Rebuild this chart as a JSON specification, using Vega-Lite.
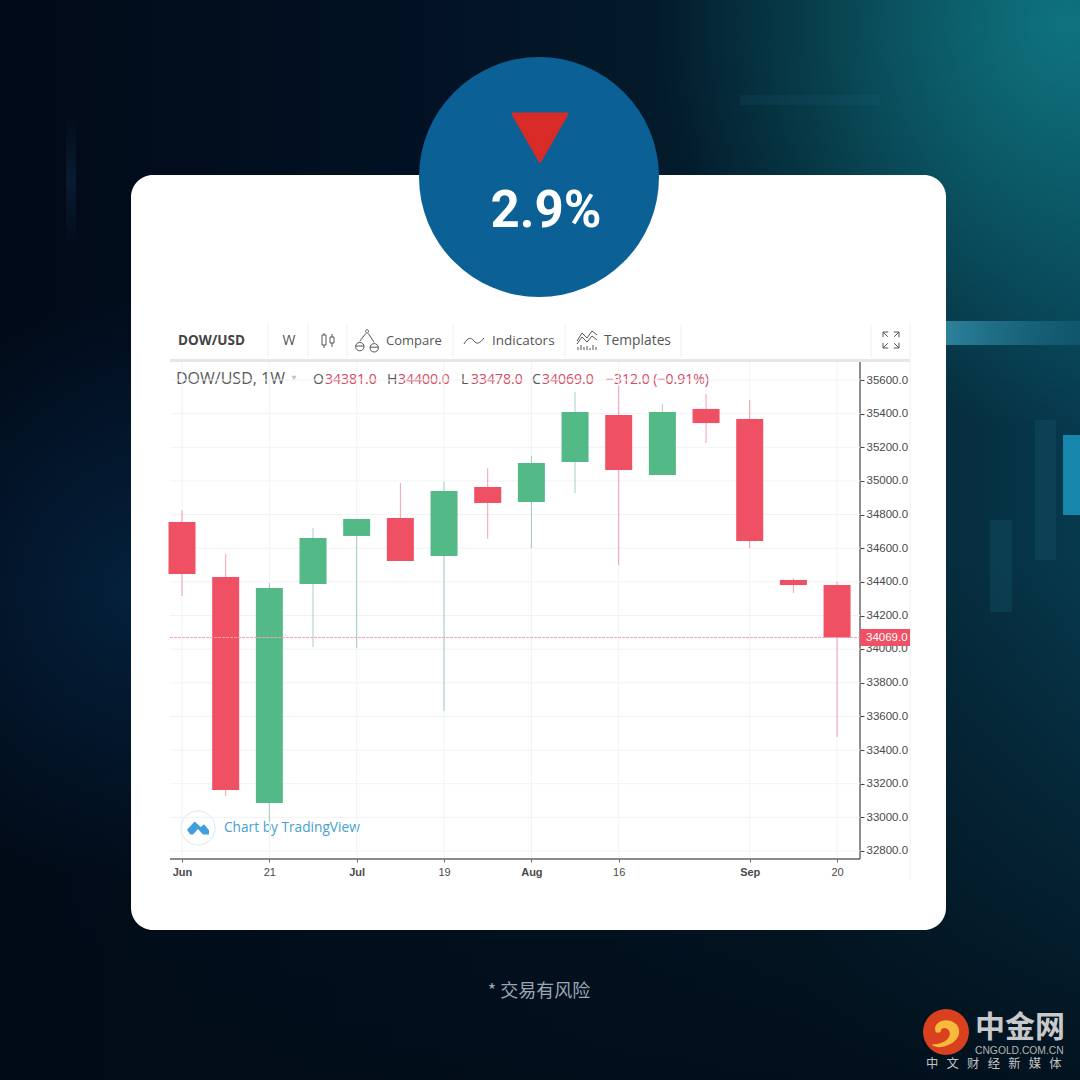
{"$schema":"https://vega.github.io/schema/vega-lite/v6.json","width":1080,"height":1080,"padding":0,"autosize":{"type":"fit","contains":"padding"},"background":"#020b18","view":{"stroke":null},"config":{"view":{"stroke":null}},"data":{"name":"decor","values":[{"item":"decor"}]},"datasets":{"candles":[
{"date":"2021-06-07","open":34756,"high":34827,"low":34316,"close":34447},
{"date":"2021-06-14","open":34429,"high":34566,"low":33127,"close":33162},
{"date":"2021-06-21","open":33085,"high":34393,"low":32972,"close":34363},
{"date":"2021-06-28","open":34387,"high":34720,"low":34013,"close":34661},
{"date":"2021-07-05","open":34673,"high":34774,"low":34007,"close":34774},
{"date":"2021-07-12","open":34780,"high":34988,"low":34524,"close":34524},
{"date":"2021-07-19","open":34554,"high":34994,"low":33632,"close":34940},
{"date":"2021-07-26","open":34964,"high":35077,"low":34655,"close":34869},
{"date":"2021-08-02","open":34875,"high":35148,"low":34601,"close":35107},
{"date":"2021-08-09","open":35112,"high":35529,"low":34928,"close":35410},
{"date":"2021-08-16","open":35392,"high":35564,"low":34500,"close":35065},
{"date":"2021-08-23","open":35035,"high":35457,"low":35035,"close":35410},
{"date":"2021-08-30","open":35428,"high":35517,"low":35225,"close":35344},
{"date":"2021-09-06","open":35368,"high":35481,"low":34601,"close":34643},
{"date":"2021-09-13","open":34411,"high":34423,"low":34334,"close":34381},
{"date":"2021-09-20","open":34381,"high":34400,"low":33478,"close":34069}]},"resolve":{"scale":{"x":"independent","y":"independent"},"axis":{"x":"independent","y":"independent"}},"layer":[
{"layer":[
{"mark":{"type":"rect","fill":{"gradient":"linear","x1":0,"y1":0,"x2":1,"y2":0,"stops":[{"offset":0,"color":"#010a18"},{"offset":0.4,"color":"#021224"},{"offset":0.75,"color":"#04202f"},{"offset":1,"color":"#07394d"}]}},"encoding":{"x":{"datum":0,"type":"quantitative","axis":null,"scale":{"domain":[0,1080],"nice":false,"zero":false}},"x2":{"datum":1080},"y":{"datum":0,"type":"quantitative","axis":null,"scale":{"domain":[0,1080],"nice":false,"zero":false,"reverse":true}},"y2":{"datum":1080}}},
{"mark":{"type":"rect","fill":{"gradient":"linear","x1":0,"y1":0,"x2":0,"y2":1,"stops":[{"offset":0,"color":"rgba(2,12,24,0)"},{"offset":1,"color":"rgba(2,12,24,0.85)"}]}},"encoding":{"x":{"datum":0,"type":"quantitative","axis":null},"x2":{"datum":1080},"y":{"datum":560,"type":"quantitative","axis":null},"y2":{"datum":1080}}},
{"mark":{"type":"rect","fill":{"gradient":"radial","x1":0.95,"y1":0.05,"x2":0.95,"y2":0.05,"r1":0,"r2":0.85,"stops":[{"offset":0,"color":"rgba(16,125,135,0.85)"},{"offset":1,"color":"rgba(16,125,135,0)"}]}},"encoding":{"x":{"datum":620,"type":"quantitative","axis":null},"x2":{"datum":1080},"y":{"datum":0,"type":"quantitative","axis":null},"y2":{"datum":480}}},
{"mark":{"type":"rect","fill":{"gradient":"radial","x1":0.5,"y1":0.5,"x2":0.5,"y2":0.5,"r1":0,"r2":0.5,"stops":[{"offset":0,"color":"rgba(10,70,120,0.35)"},{"offset":1,"color":"rgba(10,70,120,0)"}]}},"encoding":{"x":{"datum":0,"type":"quantitative","axis":null},"x2":{"datum":260},"y":{"datum":300,"type":"quantitative","axis":null},"y2":{"datum":880}}},
{"mark":{"type":"rect","fill":{"gradient":"linear","x1":0,"y1":0,"x2":1,"y2":0,"stops":[{"offset":0,"color":"rgba(60,160,190,0.7)"},{"offset":1,"color":"rgba(30,120,150,0.3)"}]}},"encoding":{"x":{"datum":946,"type":"quantitative","axis":null},"x2":{"datum":1080},"y":{"datum":321,"type":"quantitative","axis":null},"y2":{"datum":345}}},
{"mark":{"type":"rect","fill":"#1786ad"},"encoding":{"x":{"datum":1063,"type":"quantitative","axis":null},"x2":{"datum":1080},"y":{"datum":435,"type":"quantitative","axis":null},"y2":{"datum":515}}},
{"mark":{"type":"rect","fill":"rgba(40,130,150,0.16)"},"encoding":{"x":{"datum":990,"type":"quantitative","axis":null},"x2":{"datum":1012},"y":{"datum":520,"type":"quantitative","axis":null},"y2":{"datum":612}}},
{"mark":{"type":"rect","fill":"rgba(40,130,150,0.14)"},"encoding":{"x":{"datum":1035,"type":"quantitative","axis":null},"x2":{"datum":1056},"y":{"datum":420,"type":"quantitative","axis":null},"y2":{"datum":560}}},
{"mark":{"type":"rect","fill":{"gradient":"linear","x1":0,"y1":0,"x2":0,"y2":1,"stops":[{"offset":0,"color":"rgba(50,110,150,0)"},{"offset":0.5,"color":"rgba(50,110,150,0.16)"},{"offset":1,"color":"rgba(50,110,150,0)"}]}},"encoding":{"x":{"datum":66,"type":"quantitative","axis":null},"x2":{"datum":76},"y":{"datum":110,"type":"quantitative","axis":null},"y2":{"datum":250}}},
{"mark":{"type":"rect","fill":"rgba(40,110,140,0.12)"},"encoding":{"x":{"datum":740,"type":"quantitative","axis":null},"x2":{"datum":880},"y":{"datum":95,"type":"quantitative","axis":null},"y2":{"datum":105}}},
{"mark":{"type":"rect","fill":"white","cornerRadius":22},"encoding":{"x":{"datum":131,"type":"quantitative","axis":null},"x2":{"datum":946},"y":{"datum":175,"type":"quantitative","axis":null},"y2":{"datum":930}}},
{"mark":{"type":"point","shape":"circle","filled":true,"fill":"#0b6196","opacity":1,"size":57600},"encoding":{"x":{"datum":539,"type":"quantitative","axis":null},"y":{"datum":177,"type":"quantitative","axis":null}}},
{"mark":{"type":"point","shape":"triangle-down","filled":true,"fill":"#d92b27","stroke":"#d92b27","strokeWidth":3,"strokeJoin":"round","opacity":1,"size":2916},"encoding":{"x":{"datum":540,"type":"quantitative","axis":null},"y":{"datum":137.5,"type":"quantitative","axis":null}}},
{"data":{"values":[{"label":"2.9%"}]},"mark":{"type":"text","font":"Roboto","fontWeight":"bold","fontSize":51,"fill":"white","align":"center","baseline":"alphabetic"},"encoding":{"x":{"datum":546,"type":"quantitative","axis":null},"y":{"datum":227,"type":"quantitative","axis":null},"text":{"field":"label"}}},
{"mark":{"type":"rect","fill":"#e4e6e8"},"encoding":{"x":{"datum":170,"type":"quantitative","axis":null},"x2":{"datum":910},"y":{"datum":359,"type":"quantitative","axis":null},"y2":{"datum":362}}},
{"data":{"values":[{"sep":268},{"sep":308},{"sep":347},{"sep":453},{"sep":565},{"sep":681},{"sep":871}]},"mark":{"type":"rule","stroke":"#eff0f2","strokeWidth":1},"encoding":{"x":{"field":"sep","type":"quantitative","axis":null},"y":{"datum":324,"type":"quantitative","axis":null},"y2":{"datum":358}}},
{"mark":{"type":"rule","stroke":"#eff0f2","strokeWidth":1},"encoding":{"x":{"datum":910,"type":"quantitative","axis":null},"y":{"datum":324,"type":"quantitative","axis":null},"y2":{"datum":880}}},
{"data":{"values":[{"label":"DOW/USD"}]},"mark":{"type":"text","font":"Open Sans","fontWeight":"bold","fontSize":13.5,"fill":"#444","align":"left","baseline":"alphabetic"},"encoding":{"x":{"datum":178,"type":"quantitative","axis":null},"y":{"datum":345,"type":"quantitative","axis":null},"text":{"field":"label"}}},
{"data":{"values":[{"label":"W"}]},"mark":{"type":"text","font":"Open Sans","fontSize":14,"fill":"#555","align":"center","baseline":"alphabetic"},"encoding":{"x":{"datum":289,"type":"quantitative","axis":null},"y":{"datum":345,"type":"quantitative","axis":null},"text":{"field":"label"}}},
{"data":{"values":[{"label":"Compare"}]},"mark":{"type":"text","font":"Open Sans","fontSize":13,"fill":"#555","align":"left","baseline":"alphabetic"},"encoding":{"x":{"datum":386,"type":"quantitative","axis":null},"y":{"datum":345,"type":"quantitative","axis":null},"text":{"field":"label"}}},
{"data":{"values":[{"label":"Indicators"}]},"mark":{"type":"text","font":"Open Sans","fontSize":13.5,"fill":"#555","align":"left","baseline":"alphabetic"},"encoding":{"x":{"datum":492,"type":"quantitative","axis":null},"y":{"datum":345,"type":"quantitative","axis":null},"text":{"field":"label"}}},
{"data":{"values":[{"label":"Templates"}]},"mark":{"type":"text","font":"Open Sans","fontSize":13.8,"fill":"#555","align":"left","baseline":"alphabetic"},"encoding":{"x":{"datum":604,"type":"quantitative","axis":null},"y":{"datum":345,"type":"quantitative","axis":null},"text":{"field":"label"}}},
{"mark":{"type":"point","shape":"M-0.75,-0.625H-0.25V0.625H-0.75ZM-0.5,-0.875V-0.625M-0.5,0.625V1M0.25,-0.375H0.75V0.375H0.25ZM0.5,-0.75V-0.375M0.5,0.375V0.875","filled":false,"stroke":"#555","strokeWidth":1,"opacity":1,"size":256},"encoding":{"x":{"datum":328,"type":"quantitative","axis":null},"y":{"datum":340,"type":"quantitative","axis":null}}},
{"mark":{"type":"point","shape":"M0,-0.85A0.13,0.13 0 1 0 0.01,-0.85ZM-0.1,-0.55L-0.6,0.1M0.1,-0.55L0.6,0.2M-0.95,0.55A0.35,0.35 0 0 1 -0.25,0.55A0.35,0.35 0 0 1 -0.95,0.55ZM0.25,0.65A0.35,0.35 0 0 1 0.95,0.65A0.35,0.35 0 0 1 0.25,0.65ZM-0.95,0.5H-0.25M0.25,0.6H0.95","filled":false,"stroke":"#555","strokeWidth":1,"opacity":1,"size":576},"encoding":{"x":{"datum":367,"type":"quantitative","axis":null},"y":{"datum":340,"type":"quantitative","axis":null}}},
{"mark":{"type":"point","shape":"M-1,0.3C-0.6,-0.4 -0.3,-0.4 0,0C0.3,0.4 0.6,0.2 1,-0.3","filled":false,"stroke":"#555","strokeWidth":1,"opacity":1,"size":400},"encoding":{"x":{"datum":474,"type":"quantitative","axis":null},"y":{"datum":341,"type":"quantitative","axis":null}}},
{"mark":{"type":"point","shape":"M-1,0.1L-0.5,-0.7L0,-0.2L0.5,-0.9L1,-0.5M-1,0.4L-0.5,-0.3L0,0.2L0.5,-0.4L1,0M-0.9,1V0.7M-0.6,1V0.5M-0.3,1V0.7M0,1V0.6M0.3,1V0.8M0.6,1V0.5M0.9,1V0.7","filled":false,"stroke":"#555","strokeWidth":1,"opacity":1,"size":400},"encoding":{"x":{"datum":587,"type":"quantitative","axis":null},"y":{"datum":340,"type":"quantitative","axis":null}}},
{"mark":{"type":"point","shape":"M-1,-0.35V-1H-0.35M-1,-1L-0.4,-0.4M1,-0.35V-1H0.35M1,-1L0.4,-0.4M-1,0.35V1H-0.35M-1,1L-0.4,0.4M1,0.35V1H0.35M1,1L0.4,0.4","filled":false,"stroke":"#555","strokeWidth":1,"opacity":1,"size":256},"encoding":{"x":{"datum":891,"type":"quantitative","axis":null},"y":{"datum":340,"type":"quantitative","axis":null}}},
{"data":{"values":[{"label":"DOW/USD, 1W"}]},"mark":{"type":"text","font":"Open Sans","fontSize":16,"fill":"#5a5a5a","align":"left","baseline":"alphabetic"},"encoding":{"x":{"datum":176,"type":"quantitative","axis":null},"y":{"datum":384,"type":"quantitative","axis":null},"text":{"field":"label"}}},
{"mark":{"type":"point","shape":"triangle-down","filled":true,"fill":"#c4c4c4","opacity":1,"size":30},"encoding":{"x":{"datum":294,"type":"quantitative","axis":null},"y":{"datum":378,"type":"quantitative","axis":null}}},
{"data":{"values":[{"label":"O"}]},"mark":{"type":"text","font":"Open Sans","fontSize":14,"fill":"#555","align":"left","baseline":"alphabetic"},"encoding":{"x":{"datum":313,"type":"quantitative","axis":null},"y":{"datum":384,"type":"quantitative","axis":null},"text":{"field":"label"}}},
{"data":{"values":[{"label":"34381.0"}]},"mark":{"type":"text","font":"Open Sans","fontSize":14,"fill":"#d4495e","align":"left","baseline":"alphabetic"},"encoding":{"x":{"datum":325,"type":"quantitative","axis":null},"y":{"datum":384,"type":"quantitative","axis":null},"text":{"field":"label"}}},
{"data":{"values":[{"label":"H"}]},"mark":{"type":"text","font":"Open Sans","fontSize":14,"fill":"#555","align":"left","baseline":"alphabetic"},"encoding":{"x":{"datum":387,"type":"quantitative","axis":null},"y":{"datum":384,"type":"quantitative","axis":null},"text":{"field":"label"}}},
{"data":{"values":[{"label":"34400.0"}]},"mark":{"type":"text","font":"Open Sans","fontSize":14,"fill":"#d4495e","align":"left","baseline":"alphabetic"},"encoding":{"x":{"datum":398,"type":"quantitative","axis":null},"y":{"datum":384,"type":"quantitative","axis":null},"text":{"field":"label"}}},
{"data":{"values":[{"label":"L"}]},"mark":{"type":"text","font":"Open Sans","fontSize":14,"fill":"#555","align":"left","baseline":"alphabetic"},"encoding":{"x":{"datum":461,"type":"quantitative","axis":null},"y":{"datum":384,"type":"quantitative","axis":null},"text":{"field":"label"}}},
{"data":{"values":[{"label":"33478.0"}]},"mark":{"type":"text","font":"Open Sans","fontSize":14,"fill":"#d4495e","align":"left","baseline":"alphabetic"},"encoding":{"x":{"datum":471,"type":"quantitative","axis":null},"y":{"datum":384,"type":"quantitative","axis":null},"text":{"field":"label"}}},
{"data":{"values":[{"label":"C"}]},"mark":{"type":"text","font":"Open Sans","fontSize":14,"fill":"#555","align":"left","baseline":"alphabetic"},"encoding":{"x":{"datum":532,"type":"quantitative","axis":null},"y":{"datum":384,"type":"quantitative","axis":null},"text":{"field":"label"}}},
{"data":{"values":[{"label":"34069.0"}]},"mark":{"type":"text","font":"Open Sans","fontSize":14,"fill":"#d4495e","align":"left","baseline":"alphabetic"},"encoding":{"x":{"datum":542,"type":"quantitative","axis":null},"y":{"datum":384,"type":"quantitative","axis":null},"text":{"field":"label"}}},
{"data":{"values":[{"label":"−312.0 (−0.91%)"}]},"mark":{"type":"text","font":"Open Sans","fontSize":14,"fill":"#d4495e","align":"left","baseline":"alphabetic"},"encoding":{"x":{"datum":606,"type":"quantitative","axis":null},"y":{"datum":384,"type":"quantitative","axis":null},"text":{"field":"label"}}},
{"mark":{"type":"rule","stroke":"#8a8a8a","strokeWidth":2},"encoding":{"x":{"datum":170,"type":"quantitative","axis":null},"x2":{"datum":860},"y":{"datum":859,"type":"quantitative","axis":null}}},
{"mark":{"type":"rule","stroke":"#444","strokeWidth":1.2},"encoding":{"x":{"datum":860,"type":"quantitative","axis":null},"y":{"datum":362,"type":"quantitative","axis":null},"y2":{"datum":859}}},
{"mark":{"type":"point","shape":"circle","filled":true,"fill":"white","stroke":"#eaeff5","strokeWidth":1.5,"opacity":1,"size":1156},"encoding":{"x":{"datum":198,"type":"quantitative","axis":null},"y":{"datum":828,"type":"quantitative","axis":null}}},
{"mark":{"type":"point","shape":"M-1,0.15L-0.3,-0.6L0.25,-0.1L0.55,-0.35L1,0.2V0.6H0.45L0,0.1L-0.45,0.6H-0.7Z","filled":true,"fill":"#3d9fdb","opacity":1,"size":484},"encoding":{"x":{"datum":198,"type":"quantitative","axis":null},"y":{"datum":828,"type":"quantitative","axis":null}}},
{"data":{"values":[{"label":"Chart by TradingView"}]},"mark":{"type":"text","font":"Open Sans","fontSize":13.7,"fill":"#45a2cf","align":"left","baseline":"alphabetic"},"encoding":{"x":{"datum":224,"type":"quantitative","axis":null},"y":{"datum":832,"type":"quantitative","axis":null},"text":{"field":"label"}}},
{"data":{"values":[{"label":"* 交易有风险"}]},"mark":{"type":"text","font":"Noto Sans CJK SC","fontSize":18,"fill":"#9aa8b5","align":"center","baseline":"alphabetic"},"encoding":{"x":{"datum":539,"type":"quantitative","axis":null},"y":{"datum":997,"type":"quantitative","axis":null},"text":{"field":"label"}}},
{"mark":{"type":"point","shape":"circle","filled":true,"fill":"#d8401e","opacity":1,"size":2116},"encoding":{"x":{"datum":946,"type":"quantitative","axis":null},"y":{"datum":1032,"type":"quantitative","axis":null}}},
{"mark":{"type":"point","shape":"M-0.6,-0.1C-0.7,-0.6 0.1,-0.9 0.6,-0.4C0.9,0 0.7,0.6 -0.1,0.8C-0.5,0.9 -0.7,0.8 -0.8,0.7C-0.2,0.7 0.3,0.4 0.2,0C0.1,-0.3 -0.3,-0.3 -0.3,0C-0.5,0.1 -0.6,0 -0.6,-0.1Z","filled":true,"fill":"#f6b93b","opacity":1,"size":1296},"encoding":{"x":{"datum":946,"type":"quantitative","axis":null},"y":{"datum":1032,"type":"quantitative","axis":null}}},
{"data":{"values":[{"label":"中金网"}]},"mark":{"type":"text","font":"Noto Sans CJK SC","fontWeight":"bold","fontSize":30,"fill":"#c9c9c9","align":"left","baseline":"alphabetic"},"encoding":{"x":{"datum":975,"type":"quantitative","axis":null},"y":{"datum":1037,"type":"quantitative","axis":null},"text":{"field":"label"}}},
{"data":{"values":[{"label":"CNGOLD.COM.CN"}]},"mark":{"type":"text","font":"Liberation Sans","fontSize":10.3,"fill":"#b5b5b5","align":"left","baseline":"alphabetic"},"encoding":{"x":{"datum":975,"type":"quantitative","axis":null},"y":{"datum":1054,"type":"quantitative","axis":null},"text":{"field":"label"}}},
{"data":{"values":[{"label":"中\u00a0\u00a0\u00a0文\u00a0\u00a0\u00a0财\u00a0\u00a0\u00a0经\u00a0\u00a0\u00a0新\u00a0\u00a0\u00a0媒\u00a0\u00a0\u00a0体"}]},"mark":{"type":"text","font":"Noto Sans CJK SC","fontSize":12.3,"fill":"#c4c4c4","align":"left","baseline":"alphabetic"},"encoding":{"x":{"datum":926,"type":"quantitative","axis":null},"y":{"datum":1068,"type":"quantitative","axis":null},"text":{"field":"label"}}}
]},
{"data":{"values":[{"price":32800},{"price":33000},{"price":33200},{"price":33400},{"price":33600},{"price":33800},{"price":34000},{"price":34200},{"price":34400},{"price":34600},{"price":34800},{"price":35000},{"price":35200},{"price":35400},{"price":35600}]},"mark":{"type":"rule","stroke":"#f0f3f5","strokeWidth":1},"encoding":{"y":{"field":"price","type":"quantitative","axis":{"orient":"right","offset":-220,"title":null,"domain":false,"grid":false,"zindex":1,"values":[32800,33000,33200,33400,33600,33800,34000,34200,34400,34600,34800,35000,35200,35400,35600],"labelExpr":"datum.value==34000?'':format(datum.value,'.1f')","labelFont":"Liberation Sans","labelFontSize":11.5,"labelColor":"#4a4a4a","tickColor":"#444","tickSize":4,"labelPadding":2,"labelBound":false,"labelOverlap":false,"labelFlush":false},"scale":{"domain":[31438.6,37859.1],"nice":false,"zero":false}},"x":{"datum":1622857810000,"type":"temporal","axis":{"orient":"bottom","offset":-221,"title":null,"domain":false,"grid":false,"zindex":1,"values":[1623024000000,1624233600000,1625443200000,1626652800000,1627862400000,1629072000000,1630886400000,1632096000000],"labelExpr":"utcdate(datum.value)<=7?utcFormat(datum.value,'%b'):utcFormat(datum.value,'%d')","labelFontWeight":{"condition":{"test":"utcdate(datum.value)<=7","value":"bold"},"value":"normal"},"labelFont":"Liberation Sans","labelFontSize":11,"labelColor":"#4a4a4a","tickColor":"#666","tickSize":3,"labelPadding":4,"labelBound":false,"labelOverlap":false,"labelFlush":false},"scale":{"type":"utc","domain":[1620503194000,1635460502400],"nice":false}},"x2":{"datum":1632413820000}}},
{"data":{"values":[{"tick":"2021-06-07"},{"tick":"2021-06-21"},{"tick":"2021-07-05"},{"tick":"2021-07-19"},{"tick":"2021-08-02"},{"tick":"2021-08-16"},{"tick":"2021-09-06"},{"tick":"2021-09-20"}]},"mark":{"type":"rule","stroke":"#f0f3f5","strokeWidth":1},"encoding":{"x":{"field":"tick","type":"temporal","axis":null,"scale":{"type":"utc","domain":[1620503194000,1635460502400],"nice":false}},"y":{"datum":35707,"type":"quantitative","axis":null,"scale":{"domain":[31438.6,37859.1],"nice":false,"zero":false}},"y2":{"datum":32758}}},
{"data":{"values":[{"price":34000}]},"mark":{"type":"text","font":"Liberation Sans","fontSize":11.5,"fill":"#4a4a4a","align":"left","baseline":"middle"},"encoding":{"x":{"datum":1632497000000,"type":"temporal","axis":null,"scale":{"type":"utc","domain":[1620503194000,1635460502400],"nice":false}},"y":{"field":"price","type":"quantitative","axis":null,"scale":{"domain":[31438.6,37859.1],"nice":false,"zero":false}},"text":{"field":"price","type":"quantitative","format":".1f"}}},
{"data":{"name":"candles"},"mark":{"type":"rule","strokeWidth":1,"opacity":0.55},"encoding":{"x":{"field":"date","type":"temporal","axis":null,"scale":{"type":"utc","domain":[1620503194000,1635460502400],"nice":false}},"y":{"field":"low","type":"quantitative","axis":null,"scale":{"domain":[31438.6,37859.1],"nice":false,"zero":false}},"y2":{"field":"high"},"stroke":{"condition":{"test":"datum.close>=datum.open","value":"#53a98c"},"value":"#ef5064"}}},
{"data":{"name":"candles"},"mark":{"type":"bar","size":27},"encoding":{"x":{"field":"date","type":"temporal","axis":null,"scale":{"type":"utc","domain":[1620503194000,1635460502400],"nice":false,"padding":0}},"y":{"field":"open","type":"quantitative","axis":null,"scale":{"domain":[31438.6,37859.1],"nice":false,"zero":false}},"y2":{"field":"close"},"fill":{"condition":{"test":"datum.close>=datum.open","value":"#53b987"},"value":"#ef5064"}}},
{"data":{"values":[{"last":34069}]},"mark":{"type":"rule","stroke":"#f3a3ad","strokeWidth":1,"strokeDash":[3,1]},"encoding":{"y":{"field":"last","type":"quantitative","axis":null,"scale":{"domain":[31438.6,37859.1],"nice":false,"zero":false}},"x":{"datum":1622857810000,"type":"temporal","axis":null,"scale":{"type":"utc","domain":[1620503194000,1635460502400],"nice":false}},"x2":{"datum":1632413820000}}},
{"data":{"values":[{"last":34069}]},"mark":{"type":"rect","fill":"#ef5064"},"encoding":{"x":{"datum":1632413820000,"type":"temporal","axis":null,"scale":{"type":"utc","domain":[1620503194000,1635460502400],"nice":false}},"x2":{"datum":1633106200000},"y":{"datum":34120,"type":"quantitative","axis":null,"scale":{"domain":[31438.6,37859.1],"nice":false,"zero":false}},"y2":{"datum":34019}}},
{"data":{"values":[{"last":34069}]},"mark":{"type":"text","font":"Liberation Sans","fontSize":11.5,"fill":"white","align":"left","baseline":"middle"},"encoding":{"x":{"datum":1632497000000,"type":"temporal","axis":null,"scale":{"type":"utc","domain":[1620503194000,1635460502400],"nice":false}},"y":{"field":"last","type":"quantitative","axis":null,"scale":{"domain":[31438.6,37859.1],"nice":false,"zero":false}},"text":{"field":"last","type":"quantitative","format":".1f"}}}
]}
